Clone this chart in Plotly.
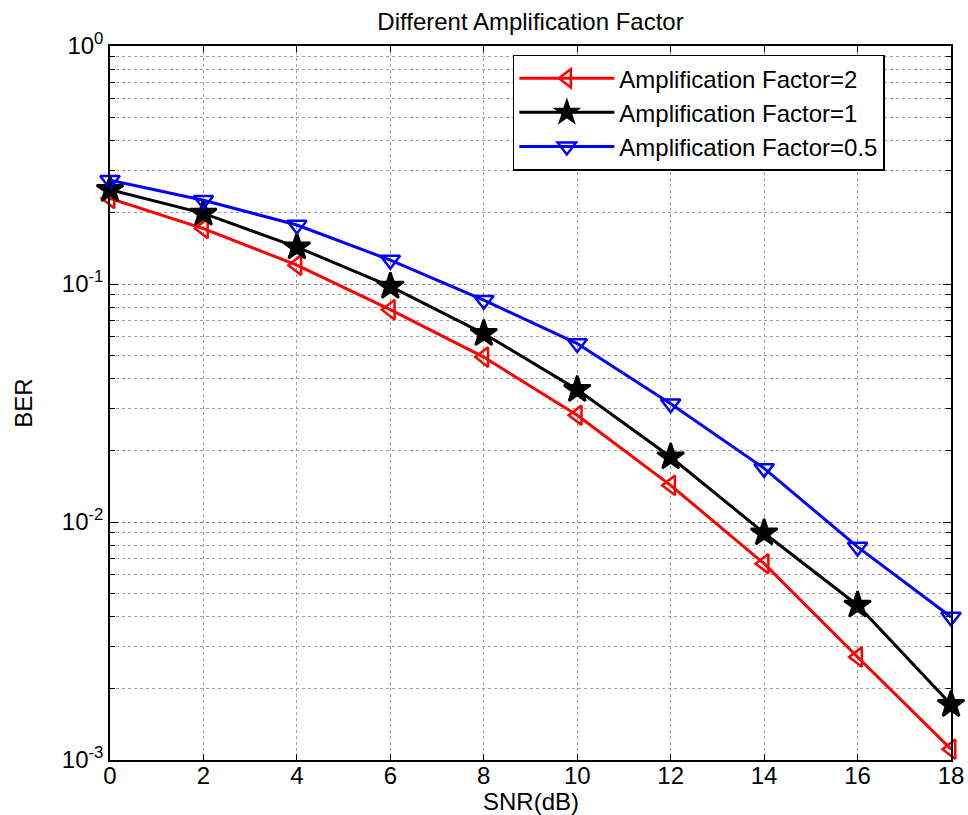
import plotly.graph_objects as go

snr = [0, 2, 4, 6, 8, 10, 12, 14, 16, 18]
ber_af2 = [0.229, 0.171, 0.120, 0.078, 0.0493, 0.0281, 0.01426, 0.00668, 0.00271, 0.00111]
ber_af1 = [0.249, 0.198, 0.143, 0.0978, 0.0619, 0.0360, 0.01875, 0.00899, 0.00447, 0.00171]
ber_af05 = [0.273, 0.225, 0.177, 0.126, 0.0855, 0.0562, 0.0314, 0.0168, 0.00786, 0.00399]
names = ["Amplification Factor=2", "Amplification Factor=1", "Amplification Factor=0.5"]
ytick_vals = [1e-3, 1e-2, 1e-1, 1]
ytick_text = ["10<sup>-3</sup>", "10<sup>-2</sup>", "10<sup>-1</sup>", "10<sup>0</sup>"]
minor_vals = [m * 10 ** e for e in (-3, -2, -1) for m in range(2, 10)]

FONT = "Liberation Sans, Arial, sans-serif"

fig = go.Figure()
series = [
    (ber_af2, names[0], "red", "triangle-left-open", 17),
    (ber_af1, names[1], "black", "star", 20),
    (ber_af05, names[2], "blue", "triangle-down-open", 17),
]
for ys, nm, col, sym, sz in series:
    fig.add_trace(go.Scatter(
        x=snr, y=ys, name=nm, mode="lines+markers",
        line=dict(color=col, width=3),
        marker=dict(symbol=sym, size=sz, color=col, line=dict(color=col, width=2.5)),
        cliponaxis=False,
    ))

fig.update_layout(
    width=968, height=815,
    margin=dict(l=110, r=17, t=46, b=55, autoexpand=False),
    paper_bgcolor="white", plot_bgcolor="white",
    font=dict(family=FONT, size=24, color="black"),
    title=dict(text="Different Amplification Factor", x=0.5, xref="paper", xanchor="center",
               yref="container", y=1 - 22 / 815, yanchor="middle", font=dict(size=24)),
    showlegend=True,
    legend=dict(x=0.479, y=0.988, xanchor="left", yanchor="top",
                bgcolor="white", bordercolor="black", borderwidth=1.5,
                font=dict(size=24), tracegroupgap=0, itemwidth=95),
    annotations=[dict(text="SNR(dB)", xref="paper", yref="paper", x=0.5, y=-41 / 714,
                      xanchor="center", yanchor="middle", showarrow=False,
                      font=dict(size=24))],
)
fig.update_xaxes(
    automargin=False, ticklabelstandoff=-7,
    range=[0, 18], tickmode="array", tickvals=snr, ticktext=[str(v) for v in snr],
    showgrid=True, gridcolor="#a0a0a0", griddash="dot", gridwidth=1,
    showline=True, linecolor="black", linewidth=1.5, mirror="ticks",
    ticks="inside", ticklen=6, tickcolor="black", zeroline=False,
    tickfont=dict(size=24),
)
fig.update_yaxes(
    title=dict(text="BER", standoff=22, font=dict(size=24)),
    automargin=False,
    type="log", range=[-3, 0], tickmode="array", tickvals=ytick_vals, ticktext=ytick_text,
    showgrid=True, gridcolor="#808080", griddash="dot", gridwidth=1,
    showline=True, linecolor="black", linewidth=1.5, mirror="ticks",
    ticks="inside", ticklen=8, tickcolor="black", zeroline=False,
    tickfont=dict(size=24),
    minor=dict(tickmode="array", tickvals=minor_vals, showgrid=True, gridcolor="#a0a0a0",
               griddash="dot", ticks="inside", ticklen=5, tickcolor="black"),
)

fig.write_html("out.html", config={"displayModeBar": False},
               post_script="document.body.style.margin='0px';")
